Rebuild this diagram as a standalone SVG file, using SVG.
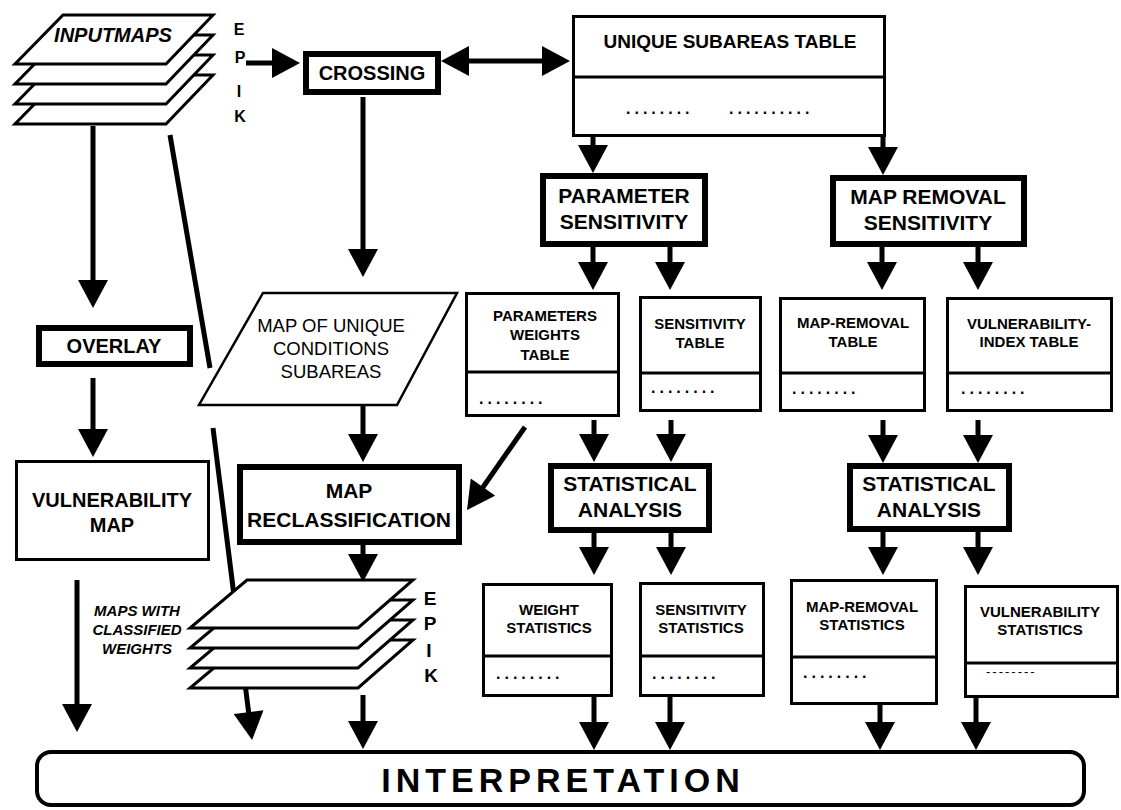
<svg xmlns="http://www.w3.org/2000/svg" width="1121" height="810" viewBox="0 0 1121 810">
<style>
.tk{fill:#fff;stroke:#000;stroke-width:6}
.tn{fill:#fff;stroke:#000;stroke-width:3}
.dv{stroke:#000;stroke-width:3}
.sh{fill:#fff;stroke:#000;stroke-width:3;stroke-linejoin:miter}
.b{font-family:"Liberation Sans",Arial,sans-serif;font-weight:bold;text-anchor:middle;fill:#000}
.r{font-family:"Liberation Sans",Arial,sans-serif;font-weight:normal;text-anchor:middle;fill:#000}
.i{font-style:italic}
.f21{font-size:21px}
.f20{font-size:20px}
.f15{font-size:15px}
.dots{font-family:"Liberation Sans",Arial,sans-serif;font-weight:bold;font-size:16px;letter-spacing:4px;fill:#000}
.conn line,.conn path{stroke:#000;stroke-width:5;fill:none}
.ar{marker-end:url(#ah)}
</style>
<defs>
<marker id="ah" markerUnits="userSpaceOnUse" markerWidth="30" markerHeight="30" viewBox="0 0 28 30" refX="16" refY="15" orient="auto-start-reverse">
<path d="M0,0 L28,15 L0,30 Z" fill="#000"/>
</marker>
</defs>
<rect width="1121" height="810" fill="#fff"/>

<g id="connectors" class="conn">
<line class="ar" x1="246" y1="63" x2="288" y2="63"/>
<line x1="453" y1="61" x2="558" y2="61" marker-start="url(#ah)" marker-end="url(#ah)"/>
<line class="ar" x1="593" y1="137" x2="593" y2="161"/>
<line class="ar" x1="883" y1="137" x2="883" y2="163"/>
<line class="ar" x1="593" y1="247" x2="593" y2="278"/>
<line class="ar" x1="670" y1="247" x2="670" y2="278"/>
<line class="ar" x1="882" y1="247" x2="882" y2="278"/>
<line class="ar" x1="978" y1="247" x2="978" y2="278"/>
<line class="ar" x1="594" y1="420" x2="594" y2="450"/>
<line class="ar" x1="671" y1="420" x2="671" y2="450"/>
<line class="ar" x1="883" y1="420" x2="883" y2="451"/>
<line class="ar" x1="978" y1="420" x2="978" y2="451"/>
<line class="ar" x1="594" y1="533" x2="594" y2="563"/>
<line class="ar" x1="671" y1="533" x2="671" y2="563"/>
<line class="ar" x1="883" y1="532" x2="883" y2="563"/>
<line class="ar" x1="978" y1="532" x2="978" y2="563"/>
<line class="ar" x1="594" y1="697" x2="594" y2="738"/>
<line class="ar" x1="670" y1="697" x2="670" y2="738"/>
<line class="ar" x1="880" y1="705" x2="880" y2="738"/>
<line class="ar" x1="976" y1="698" x2="976" y2="738"/>
<line class="ar" x1="525" y1="427" x2="473.9" y2="500.2"/>
<line class="ar" x1="363" y1="97" x2="363" y2="265"/>
<line class="ar" x1="363" y1="405" x2="363" y2="450"/>
<line class="ar" x1="363" y1="545" x2="363" y2="570"/>
<line class="ar" x1="363" y1="695" x2="363" y2="737"/>
<line class="ar" x1="93" y1="126" x2="93" y2="296"/>
<line class="ar" x1="93" y1="378" x2="93" y2="445"/>
<line class="ar" x1="77" y1="580" x2="77" y2="720"/>
<line x1="170" y1="135" x2="210" y2="368"/>
<line class="ar" x1="213" y1="428" x2="250.6" y2="728.1"/>
</g>

<g id="inputmaps">
<polygon class="sh" points="63,75 213,75 166,124 15,124"/>
<polygon class="sh" points="63,55 213,55 166,104 15,104"/>
<polygon class="sh" points="63,35 213,35 166,84 15,84"/>
<polygon class="sh" points="63,15 213,15 166,64 15,64"/>
<text class="b i f20" x="113" y="42">INPUTMAPS</text>
<text class="b" style="font-size:16px" x="239" y="35">E</text>
<text class="b" style="font-size:16px" x="240" y="63">P</text>
<text class="b" style="font-size:16px" x="239" y="97">I</text>
<text class="b" style="font-size:16px" x="240" y="122">K</text>
</g>

<g id="crossing">
<rect class="tk" x="306" y="54" width="132" height="38"/>
<text class="b f20" x="372" y="80">CROSSING</text>
</g>

<g id="unique-subareas-table">
<rect class="tn" x="573.5" y="16.5" width="311" height="119"/>
<line class="dv" x1="573.5" y1="77" x2="884.5" y2="77"/>
<text class="b" style="font-size:19px" x="730" y="48">UNIQUE SUBAREAS TABLE</text>
<text class="dots" x="626" y="114">........</text>
<text class="dots" x="729" y="114">..........</text>
</g>

<g id="parameter-sensitivity">
<rect class="tk" x="543" y="176" width="162" height="68"/>
<text class="b f21" x="624" y="203">PARAMETER</text>
<text class="b f21" x="624" y="229">SENSITIVITY</text>
</g>

<g id="map-removal-sensitivity">
<rect class="tk" x="833" y="178" width="191" height="66"/>
<text class="b f21" x="928" y="204">MAP REMOVAL</text>
<text class="b f21" x="928" y="230">SENSITIVITY</text>
</g>

<g id="parameters-weights-table">
<rect class="tn" x="466.5" y="293.5" width="152" height="122"/>
<line class="dv" x1="466.5" y1="372" x2="618.5" y2="372"/>
<text class="b f15" x="545" y="321">PARAMETERS</text>
<text class="b f15" x="545" y="340">WEIGHTS</text>
<text class="b f15" x="545" y="360">TABLE</text>
<text class="dots" x="479" y="404">........</text>
</g>

<g id="sensitivity-table">
<rect class="tn" x="640.5" y="297.5" width="120" height="113"/>
<line class="dv" x1="640.5" y1="373" x2="760.5" y2="373"/>
<text class="b f15" x="700" y="329">SENSITIVITY</text>
<text class="b f15" x="700" y="348">TABLE</text>
<text class="dots" x="651" y="393">........</text>
</g>

<g id="map-removal-table">
<rect class="tn" x="780.5" y="298.5" width="144" height="112"/>
<line class="dv" x1="780.5" y1="373" x2="924.5" y2="373"/>
<text class="b f15" x="853" y="328">MAP-REMOVAL</text>
<text class="b f15" x="853" y="347">TABLE</text>
<text class="dots" x="792" y="394">........</text>
</g>

<g id="vulnerability-index-table">
<rect class="tn" x="947.5" y="298.5" width="164" height="112"/>
<line class="dv" x1="947.5" y1="373" x2="1111.5" y2="373"/>
<text class="b f15" x="1029" y="329">VULNERABILITY-</text>
<text class="b f15" x="1029" y="347">INDEX TABLE</text>
<text class="dots" x="961" y="394">........</text>
</g>

<g id="overlay">
<rect class="tk" x="39" y="328" width="151" height="36"/>
<text class="b f20" x="114" y="353">OVERLAY</text>
</g>

<g id="map-of-unique-conditions">
<polygon class="sh" style="stroke-width:2.5" points="263,293 457,293 397,405 199,405"/>
<text class="r" style="font-size:18.5px" x="331" y="332">MAP OF UNIQUE</text>
<text class="r" style="font-size:18.5px" x="331" y="355">CONDITIONS</text>
<text class="r" style="font-size:18.5px" x="331" y="378">SUBAREAS</text>
</g>

<g id="vulnerability-map">
<rect class="tn" x="16.5" y="461.5" width="192" height="98"/>
<text class="b f20" x="112" y="507">VULNERABILITY</text>
<text class="b f20" x="112" y="532">MAP</text>
</g>

<g id="map-reclassification">
<rect class="tk" x="240" y="467" width="219" height="75"/>
<text class="b f21" x="349" y="498">MAP</text>
<text class="b f21" x="349" y="527">RECLASSIFICATION</text>
</g>

<g id="statistical-analysis-1">
<rect class="tk" x="551" y="466" width="158" height="64"/>
<text class="b f21" x="630" y="491">STATISTICAL</text>
<text class="b f21" x="630" y="517">ANALYSIS</text>
</g>

<g id="statistical-analysis-2">
<rect class="tk" x="850" y="466" width="159" height="63"/>
<text class="b f21" x="929" y="491">STATISTICAL</text>
<text class="b f21" x="929" y="517">ANALYSIS</text>
</g>

<g id="maps-with-classified-weights-label">
<text class="b i f15" x="137" y="616">MAPS WITH</text>
<text class="b i f15" x="137" y="635">CLASSIFIED</text>
<text class="b i f15" x="137" y="654">WEIGHTS</text>
</g>

<g id="classified-maps">
<polygon class="sh" points="247,640 413,640 358,688 190,688"/>
<polygon class="sh" points="247,620 413,620 358,668 190,668"/>
<polygon class="sh" points="247,600 413,600 358,648 190,648"/>
<polygon class="sh" points="247,580 413,580 358,628 190,628"/>
<text class="b" style="font-size:19px" x="430" y="605">E</text>
<text class="b" style="font-size:19px" x="430" y="630">P</text>
<text class="b" style="font-size:19px" x="429" y="657">I</text>
<text class="b" style="font-size:19px" x="431" y="682">K</text>
</g>

<g id="weight-statistics">
<rect class="tn" x="483.5" y="584.5" width="128" height="111"/>
<line class="dv" x1="483.5" y1="656" x2="611.5" y2="656"/>
<text class="b f15" x="549" y="615">WEIGHT</text>
<text class="b f15" x="549" y="633">STATISTICS</text>
<text class="dots" x="496" y="679">........</text>
</g>

<g id="sensitivity-statistics">
<rect class="tn" x="640.5" y="583.5" width="123" height="112"/>
<line class="dv" x1="640.5" y1="656" x2="763.5" y2="656"/>
<text class="b f15" x="701" y="615">SENSITIVITY</text>
<text class="b f15" x="701" y="633">STATISTICS</text>
<text class="dots" x="652" y="679">........</text>
</g>

<g id="map-removal-statistics">
<rect class="tn" x="791.5" y="580.5" width="145" height="123"/>
<line class="dv" x1="791.5" y1="657" x2="936.5" y2="657"/>
<text class="b f15" x="862" y="612">MAP-REMOVAL</text>
<text class="b f15" x="862" y="630">STATISTICS</text>
<text class="dots" x="803" y="678">........</text>
</g>

<g id="vulnerability-statistics">
<rect class="tn" x="965.5" y="586.5" width="152" height="110"/>
<line class="dv" x1="965.5" y1="663" x2="1117.5" y2="663"/>
<text class="b f15" x="1040" y="617">VULNERABILITY</text>
<text class="b f15" x="1040" y="635">STATISTICS</text>
<text class="r" style="font-size:13px;letter-spacing:2px;text-anchor:start" x="986" y="676">--------</text>
</g>

<g id="interpretation">
<rect x="37" y="752" width="1047" height="53" rx="14" fill="#fff" stroke="#000" stroke-width="4"/>
<text class="b" style="font-size:34px;letter-spacing:5px" x="563" y="792">INTERPRETATION</text>
</g>
</svg>
